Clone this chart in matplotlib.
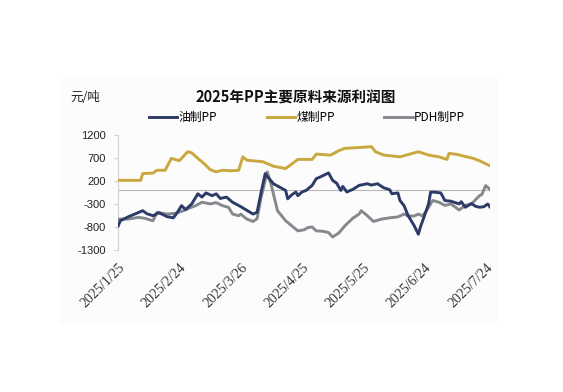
import numpy as np
import pandas as pd
import matplotlib
matplotlib.use("Agg")
import matplotlib.pyplot as plt
from matplotlib.patches import Rectangle

plt.rcParams['font.family'] = ['Noto Sans CJK SC', 'DejaVu Sans']

# 油制PP
oil_dates = ["2025-01-25", "2025-01-26", "2025-01-30", "2025-02-06", "2025-02-08", "2025-02-11",
             "2025-02-14", "2025-02-18", "2025-02-21", "2025-02-23", "2025-02-25", "2025-02-27",
             "2025-03-02", "2025-03-05", "2025-03-07", "2025-03-09", "2025-03-12", "2025-03-14",
             "2025-03-16", "2025-03-19", "2025-03-22", "2025-03-26", "2025-04-01", "2025-04-03",
             "2025-04-05", "2025-04-07", "2025-04-08", "2025-04-11", "2025-04-14", "2025-04-17",
             "2025-04-18", "2025-04-20", "2025-04-22", "2025-04-23", "2025-04-25", "2025-04-27",
             "2025-04-30", "2025-05-02", "2025-05-04", "2025-05-08", "2025-05-10", "2025-05-12",
             "2025-05-14", "2025-05-15", "2025-05-17", "2025-05-20", "2025-05-23", "2025-05-27",
             "2025-05-29", "2025-06-01", "2025-06-04", "2025-06-07", "2025-06-08", "2025-06-11",
             "2025-06-12", "2025-06-14", "2025-06-16", "2025-06-17", "2025-06-19", "2025-06-21",
             "2025-06-22", "2025-06-24", "2025-06-26", "2025-06-27", "2025-06-29", "2025-07-02",
             "2025-07-04", "2025-07-07", "2025-07-11", "2025-07-12", "2025-07-14", "2025-07-17",
             "2025-07-19", "2025-07-21", "2025-07-23", "2025-07-25", "2025-07-26"]
oil_vals = [-774, -664, -576, -445, -510, -554,
            -490, -576, -600, -481, -335, -420,
            -298, -78, -150, -60, -120, -80,
            -180, -150, -262, -357, -518, -480,
            -43, 360, 300, 140, 67, -6,
            -188, -100, -40, -120, -40, -6,
            104, 250, 287, 374, 213, 150,
            -6, 80, -40, 20, 104, 140,
            110, 140, 53, 9, -78, -60,
            -225, -335, -554, -627, -774, -956,
            -800, -554, -298, -43, -43, -60,
            -225, -240, -298, -250, -371, -290,
            -350, -371, -360, -300, -360]

# 煤制PP
coal_dates = ["2025-01-25", "2025-02-05", "2025-02-06", "2025-02-11", "2025-02-13", "2025-02-17",
              "2025-02-20", "2025-02-24", "2025-02-28", "2025-03-02", "2025-03-05", "2025-03-08",
              "2025-03-11", "2025-03-14", "2025-03-17", "2025-03-21", "2025-03-25", "2025-03-27",
              "2025-03-29", "2025-04-06", "2025-04-11", "2025-04-17", "2025-04-23", "2025-04-30",
              "2025-05-02", "2025-05-09", "2025-05-13", "2025-05-16", "2025-05-23", "2025-05-29",
              "2025-05-31", "2025-06-04", "2025-06-12", "2025-06-15", "2025-06-21", "2025-06-26",
              "2025-07-01", "2025-07-05", "2025-07-06", "2025-07-10", "2025-07-14", "2025-07-18",
              "2025-07-21", "2025-07-26"]
coal_vals = [213, 213, 360, 370, 432, 432,
             689, 640, 834, 810, 689, 579,
             448, 396, 432, 420, 432, 724,
             650, 615, 520, 469, 667, 667,
             783, 760, 856, 908, 925, 944,
             834, 761, 724, 760, 834, 761,
             724, 667, 797, 775, 730, 689,
             637, 530]

# PDH制PP
pdh_dates = ["2025-01-25", "2025-01-30", "2025-02-04", "2025-02-07", "2025-02-11", "2025-02-13",
             "2025-02-18", "2025-02-22", "2025-02-26", "2025-03-01", "2025-03-04", "2025-03-07",
             "2025-03-11", "2025-03-14", "2025-03-17", "2025-03-20", "2025-03-22", "2025-03-25",
             "2025-03-26", "2025-03-29", "2025-04-01", "2025-04-03", "2025-04-05", "2025-04-08",
             "2025-04-10", "2025-04-13", "2025-04-17", "2025-04-20", "2025-04-23", "2025-04-26",
             "2025-04-28", "2025-04-30", "2025-05-02", "2025-05-05", "2025-05-08", "2025-05-10",
             "2025-05-13", "2025-05-16", "2025-05-20", "2025-05-23", "2025-05-24", "2025-05-27",
             "2025-05-30", "2025-06-03", "2025-06-07", "2025-06-11", "2025-06-14", "2025-06-16",
             "2025-06-19", "2025-06-21", "2025-06-23", "2025-06-25", "2025-06-27", "2025-06-28",
             "2025-07-01", "2025-07-04", "2025-07-07", "2025-07-11", "2025-07-14", "2025-07-17",
             "2025-07-21", "2025-07-22", "2025-07-24", "2025-07-26"]
pdh_vals = [-627, -627, -590, -610, -664, -481,
            -520, -500, -445, -386, -335, -262,
            -298, -270, -335, -371, -518, -554,
            -520, -627, -679, -620, -152, 396,
            104, -445, -664, -774, -883, -860,
            -810, -800, -883, -890, -920, -1015,
            -930, -774, -605, -518, -445, -554,
            -679, -627, -600, -580, -518, -560,
            -560, -518, -560, -445, -298, -225,
            -260, -330, -300, -430, -330, -300,
            -116, -100, 100, 20]

tick_dates = ["2025-01-25", "2025-02-24", "2025-03-26", "2025-04-25",
              "2025-05-25", "2025-06-24", "2025-07-24"]
tick_labels = ["2025/1/25", "2025/2/24", "2025/3/26", "2025/4/25",
               "2025/5/25", "2025/6/24", "2025/7/24"]
y_ticks = [-1300, -800, -300, 200, 700, 1200]

c_oil = "#2c3b68"
c_coal = "#c9a83e"
c_pdh = "#85898d"

fig = plt.figure(figsize=(5.63, 3.92), dpi=100)
fig.patches.append(Rectangle((0.105, 0.17), 0.78, 0.63, transform=fig.transFigure,
                             facecolor="#fcfcfc", edgecolor="none", zorder=-1))

ax = fig.add_axes([0.21, 0.362, 0.66, 0.294])
ax.set_facecolor("none")

ax.plot(pd.to_datetime(oil_dates), oil_vals, color=c_oil, lw=2.1, label="油制PP", zorder=4)
ax.plot(pd.to_datetime(coal_dates), coal_vals, color=c_coal, lw=2.1, label="煤制PP", zorder=3)
ax.plot(pd.to_datetime(pdh_dates), pdh_vals, color=c_pdh, lw=2.1, label="PDH制PP", zorder=3)

ax.axhline(0, color="#b8b8b8", lw=0.8, zorder=1)

ax.set_ylim(-1300, 1200)
ax.set_xlim(pd.Timestamp("2025-01-25"), pd.Timestamp("2025-07-26"))
ax.set_yticks(y_ticks)
ax.set_yticklabels([str(v) for v in y_ticks], fontsize=8, family="Liberation Sans", color="#222222")
ax.set_xticks(pd.to_datetime(tick_dates))
ax.set_xticklabels(tick_labels, rotation=45, ha="right", va="top", rotation_mode="anchor",
                   fontsize=10, fontfamily="Liberation Serif", color="#333333")
ax.tick_params(axis="x", length=0, pad=8)
ax.tick_params(axis="y", length=3, color="#d0d0d0", pad=6)

for s in ["top", "right", "bottom"]:
    ax.spines[s].set_visible(False)
ax.spines["left"].set_color("#d0d0d0")

fig.text(0.525, 0.752, "2025年PP主要原料来源利润图", ha="center", va="center",
         fontsize=10.5, fontweight="bold", color="#111111")
fig.text(0.125, 0.752, "元/吨", ha="left", va="center", fontsize=9, color="#222222")

fig.legend(loc="center", bbox_to_anchor=(0.545, 0.70), ncol=3, frameon=False,
           fontsize=8.5, handlelength=2.4, handletextpad=0.1, columnspacing=4.2)

fig.savefig("out.png", dpi=100)
